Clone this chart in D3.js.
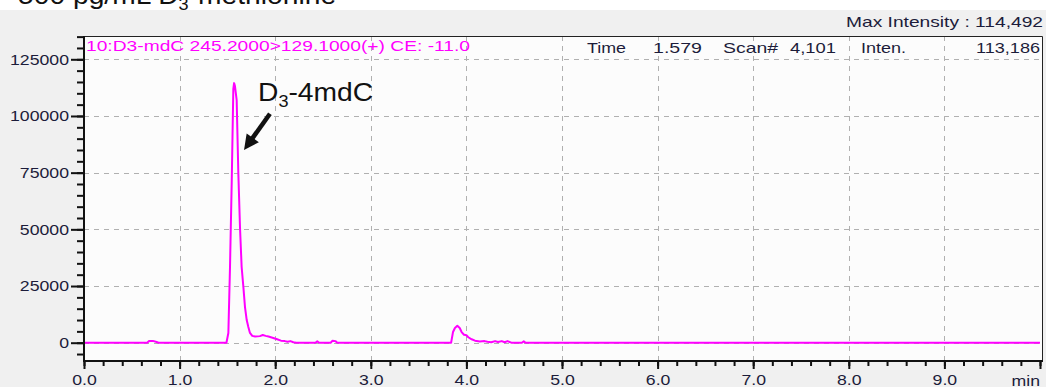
<!DOCTYPE html>
<html>
<head>
<meta charset="utf-8">
<script src="https://cdn.jsdelivr.net/npm/d3@7"></script>
<style>
  html, body { margin: 0; padding: 0; background: #ffffff; }
  svg { display: block; }
  text { font-family: "Liberation Sans", Arial, sans-serif; }
</style>
</head>
<body>
<svg id="chart" width="1046" height="387"></svg>
<script>
// Chromatogram trace: retention time (min) and signal intensity
const times = [0, 0.66, 0.68, 0.72, 0.76, 0.78, 1.49, 1.51, 1.527, 1.545, 1.562, 1.570, 1.579,
  1.597, 1.614, 1.632, 1.649, 1.667, 1.684, 1.702, 1.719, 1.736, 1.76, 1.79, 1.84, 1.87, 1.90,
  1.93, 1.98, 2.02, 2.06, 2.10, 2.13, 2.16, 2.19, 2.22, 2.42, 2.44, 2.46, 2.58, 2.60, 2.63, 2.65,
  3.84, 3.86, 3.88, 3.905, 3.93, 3.95, 3.975, 4.00, 4.02, 4.055, 4.09, 4.14, 4.19, 4.22, 4.26,
  4.30, 4.33, 4.37, 4.40, 4.43, 4.47, 4.58, 4.60, 4.62, 10.0];
const intensity = [0, 0, 700, 800, 300, 0, 0, 4300, 33000, 70400, 112000, 114492, 113186,
  107000, 75300, 50600, 33400, 24600, 15700, 10000, 6900, 4300, 3000, 2700, 2900, 3400, 3000,
  2700, 2100, 1500, 900, 700, 400, 700, 200, 0, 0, 600, 0, 0, 900, 700, 0,
  0, 4700, 6500, 7500, 6500, 4700, 3500, 3300, 2400, 1500, 900, 500, 700, 400, 200,
  700, 300, 700, 200, 700, 0, 0, 600, 0, 0];

// Axis ticks
const xMajorTicks = [0, 1, 2, 3, 4, 5, 6, 7, 8, 9];
const xGridTicks = [1, 2, 3, 4, 5, 6, 7, 8, 9];
const xUnitLabel = "min";
const yMajorTicks = [0, 25000, 50000, 75000, 100000, 125000];

// Text content
const titleParts = ["500 pg/mL D", "3", "-methionine"];
const maxIntensityText = "Max Intensity : 114,492";
const channelText = "10:D3-mdC 245.2000>129.1000(+) CE: -11.0";
const cursorLabels = ["Time", "1.579", "Scan#", "4,101", "Inten.", "113,186"];
const peakLabelParts = ["D", "3", "-4mdC"];
const peakLabelAt = [1.82, 106600];
const arrowFrom = [1.945, 101000];
const arrowTo = [1.674, 85000];

const svg = d3.select("#chart");
const W = 1046, H = 387;
const frame = { left: 84, right: 1043, top: 36, bottom: 361 };
const ink = "#1c1c3a";
const magenta = "#ff00ff";
const sx = 1.22; // horizontal stretch of the instrument font

const x = d3.scaleLinear().domain([0, 10]).range([84, 1040]);
const y = d3.scaleLinear().domain([0, 125000]).range([342.7, 59.3]);

// Backgrounds
svg.append("rect").attr("x", 0).attr("y", 0).attr("width", W).attr("height", H).attr("fill", "#ffffff");
svg.append("rect").attr("x", 0).attr("y", 10).attr("width", W).attr("height", H - 10).attr("fill", "#f0f0f0");
svg.append("rect").attr("x", frame.left).attr("y", frame.top)
  .attr("width", frame.right - frame.left).attr("height", frame.bottom - frame.top)
  .attr("fill", "#fcfcfc");

// Title (partly above the visible area)
const title = svg.append("text")
  .attr("transform", "translate(18,4) scale(1.13,1)")
  .attr("font-size", 25).attr("fill", "#111");
title.append("tspan").text(titleParts[0]);
title.append("tspan").attr("font-size", 16).attr("dy", 6).text(titleParts[1]);
title.append("tspan").attr("dy", -6).text(titleParts[2]);

// Gridlines
const grid = svg.append("g").attr("stroke", "#b0b0b0").attr("stroke-width", 1)
  .attr("stroke-dasharray", "5,5");
grid.selectAll("line.v").data(xGridTicks).join("line")
  .attr("class", "v")
  .attr("x1", d => Math.round(x(d)) + 0.5).attr("x2", d => Math.round(x(d)) + 0.5)
  .attr("y1", frame.top).attr("y2", frame.bottom);
grid.selectAll("line.h").data(yMajorTicks).join("line")
  .attr("class", "h")
  .attr("x1", frame.left).attr("x2", frame.right)
  .attr("y1", d => Math.round(y(d)) + 0.5).attr("y2", d => Math.round(y(d)) + 0.5);

// Frame borders (top and right)
svg.append("path")
  .attr("d", `M${frame.left},${frame.top + 0.5}H${frame.right - 0.5}V${frame.bottom}`)
  .attr("fill", "none").attr("stroke", "#222").attr("stroke-width", 1);

// Header row inside the frame
svg.append("text")
  .attr("x", 86).attr("y", 50.5)
  .attr("font-size", 15).attr("fill", magenta)
  .attr("textLength", 384).attr("lengthAdjust", "spacingAndGlyphs")
  .text(channelText);

const cursorPos = [
  { x: 587, anchor: "start", len: 39 },
  { x: 702, anchor: "end", len: 49 },
  { x: 723, anchor: "start", len: 55 },
  { x: 836, anchor: "end", len: 46 },
  { x: 861, anchor: "start", len: 45 },
  { x: 1040, anchor: "end", len: 64 }
];
svg.append("g").selectAll("text").data(cursorLabels).join("text")
  .attr("x", (d, i) => cursorPos[i].anchor === "end" ? cursorPos[i].x - cursorPos[i].len : cursorPos[i].x)
  .attr("y", 53)
  .attr("font-size", 15).attr("fill", ink)
  .attr("textLength", (d, i) => cursorPos[i].len).attr("lengthAdjust", "spacingAndGlyphs")
  .text(d => d);

svg.append("text")
  .attr("x", 1043 - 197).attr("y", 26.5)
  .attr("font-size", 14.5).attr("fill", ink)
  .attr("textLength", 197).attr("lengthAdjust", "spacingAndGlyphs")
  .text(maxIntensityText);

// Trace
const line = d3.line().x(d => x(d[0])).y(d => y(d[1])).curve(d3.curveLinear);
svg.append("path")
  .datum(d3.zip(times, intensity))
  .attr("d", line)
  .attr("fill", "none").attr("stroke", magenta).attr("stroke-width", 2)
  .attr("stroke-linejoin", "round");

// Y axis: minor ticks every 5000, major ticks labelled
const yMinor = d3.range(-5000, 135001, 5000);
const yAxisG = svg.append("g").attr("transform", `translate(${frame.left},0)`);
yAxisG.call(d3.axisLeft(y).tickValues(yMinor).tickSize(7).tickFormat(""));
yAxisG.call(g => g.select(".domain").remove());
const yMajorG = svg.append("g").attr("transform", `translate(${frame.left},0)`)
  .call(d3.axisLeft(y).tickValues(yMajorTicks).tickSize(13).tickFormat(d3.format("d")));
yMajorG.select(".domain").remove();
yMajorG.selectAll(".tick text")
  .attr("x", -15 / sx).attr("dy", "0.34em")
  .attr("transform", `scale(${sx},1)`)
  .attr("font-size", 14.5).attr("fill", ink)
  .attr("font-family", "'Liberation Sans', Arial, sans-serif");
svg.selectAll(".tick line").attr("stroke", "#111").attr("stroke-width", 2);

// X axis: minor ticks every 0.2 min, major ticks labelled
const xMinor = d3.range(0, 10.01, 0.2);
const xAxisG = svg.append("g").attr("transform", `translate(0,${frame.bottom})`);
xAxisG.call(d3.axisBottom(x).tickValues(xMinor).tickSize(5).tickFormat(""));
xAxisG.select(".domain").remove();
xAxisG.selectAll(".tick line").attr("stroke", "#111").attr("stroke-width", 2);
const xMajorG = svg.append("g").attr("transform", `translate(0,${frame.bottom})`)
  .call(d3.axisBottom(x).tickValues(xMajorTicks.concat([10])).tickSize(8)
    .tickFormat(d => d === 10 ? "" : d3.format(".1f")(d)));
xMajorG.select(".domain").remove();
xMajorG.selectAll(".tick line").attr("stroke", "#111").attr("stroke-width", 2);
xMajorG.selectAll(".tick text")
  .attr("y", 24.5).attr("dy", 0)
  .attr("transform", `scale(${sx},1)`)
  .attr("font-size", 14.5).attr("fill", ink)
  .attr("font-family", "'Liberation Sans', Arial, sans-serif");
svg.append("text")
  .attr("transform", `translate(1040,385.5) scale(${sx},1)`)
  .attr("text-anchor", "end")
  .attr("font-size", 14.5).attr("fill", ink)
  .text(xUnitLabel);

// Axis lines (left and bottom)
svg.append("path")
  .attr("d", `M${frame.left},${frame.top}V${frame.bottom}H${frame.right}`)
  .attr("fill", "none").attr("stroke", "#111").attr("stroke-width", 2);

// Peak annotation with arrow
const label = svg.append("text")
  .attr("transform", `translate(${x(peakLabelAt[0])},${y(peakLabelAt[1])}) scale(1.13,1)`)
  .attr("font-size", 25).attr("fill", "#111");
label.append("tspan").text(peakLabelParts[0]);
label.append("tspan").attr("font-size", 16).attr("dy", 6).text(peakLabelParts[1]);
label.append("tspan").attr("dy", -6).text(peakLabelParts[2]);

const ax0 = x(arrowFrom[0]), ay0 = y(arrowFrom[1]);
const ax1 = x(arrowTo[0]), ay1 = y(arrowTo[1]);
const len = Math.hypot(ax1 - ax0, ay1 - ay0);
const ux = (ax1 - ax0) / len, uy = (ay1 - ay0) / len;
const nx = -uy, ny = ux;
const headLen = 15, headHalf = 7.5;
const bx = ax1 - ux * headLen, by = ay1 - uy * headLen;
svg.append("line")
  .attr("x1", ax0).attr("y1", ay0).attr("x2", bx + ux * 2).attr("y2", by + uy * 2)
  .attr("stroke", "#111").attr("stroke-width", 4.5);
svg.append("path")
  .attr("d", `M${ax1},${ay1}L${bx + nx * headHalf},${by + ny * headHalf}L${bx - nx * headHalf},${by - ny * headHalf}Z`)
  .attr("fill", "#111");
</script>
</body>
</html>
